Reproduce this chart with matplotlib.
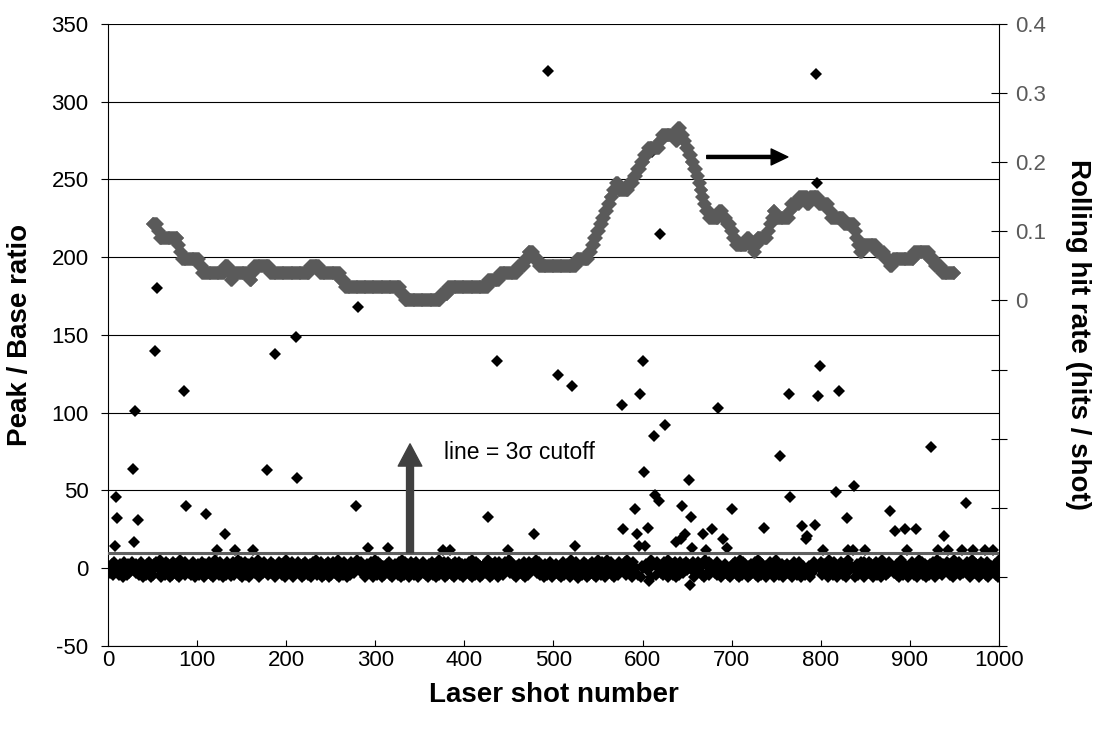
import numpy as np
import matplotlib
matplotlib.use('Agg')
import matplotlib.pyplot as plt
from matplotlib.ticker import FuncFormatter

plt.rcParams['font.family'] = ['Liberation Sans', 'DejaVu Sans']
plt.rcParams['axes.unicode_minus'] = False

# Peak/Base ratio of the ordinary (non-hit) shots, one character per shot,
# value = (int(char) - 5) * BAND_UNIT  (estimated from the dense band around 0)
BAND_UNIT = 1.4
BAND = (
    "53647281536247351846257364819537462583146527384162"
    "47382659173562847361528473625194637281543627485163"
    "72538461725384627159364728531647283651482736495281"
    "63582471634827365914257384615263847251364857263419"
    "37465281637285463172853624715836492753815264738152"
    "48573629146372854163528643715927483653167453826149"
    "62837451623574826315473625841962853741683527486153"
    "57483625174638275163925473816238465271854638257316"
    "73648251935284736152647382951627384651835627384519"
    "38574261637463528154283647516937582463174629385164"
    "64738251368254736419536287415362485731627384526159"
    "45268371493674825136528374615829473651836358274163"
    "58374625194736285164352864719364723851562846375184"
    "72635481365847362519436285714635827461596374825136"
    "37485261946284735162573648251948273651635384726159"
    "65283741634738265148362748519652748361534857362518"
    "28473651945362847163648527315937465281647253846183"
    "56384725163827465193472635816453847261596273845163"
    "48372651496358247163274638515946385271645837264159"
    "73548261634628375149583746215837462851646485372519"
)

# shots standing out of the band (shot number, Peak/Base ratio)
HIT_X = [8, 9, 10, 28, 29, 30, 34, 53, 55, 85, 88, 110, 122, 131, 138, 143, 163,
         178, 187, 211, 212, 278, 281, 292, 314, 376, 384, 426, 437, 449, 478,
         494, 505, 521, 524, 527, 577, 578, 591, 594, 596, 597, 600, 602, 603,
         606, 607, 611, 613, 614, 618, 620, 625, 637, 643, 644, 648, 652, 653,
         654, 655, 668, 671, 678, 685, 690, 695, 700, 736, 754, 764, 765, 779,
         783, 785, 793, 795, 796, 797, 799, 802, 817, 820, 829, 831, 836, 837,
         850, 878, 883, 895, 897, 907, 924, 932, 938, 943, 958, 963, 971, 984, 993]
HIT_Y = [14, 46, 32, 64, 17, 101, 31, 140, 180, 114, 40, 35, 12, 22, -5, 12, 12,
         63, 138, 149, 58, 40, 168, 13, 13, 12, 12, 33, 133, 12, 22,
         320, 124, 117, 14, -6, 105, 25, 38, 22, 14, 112, 133, 62, 14,
         26, -8, 268, 85, 47, 43, 215, 92, 17, 19, 40, 22, 57, -11,
         33, 13, 22, 12, 25, 103, 19, 13, 38, 26, 72, 112, 46, 27,
         19, 21, 28, 318, 248, 111, 130, 12, 49, 114, 32, 12, 12, 53,
         12, 37, 24, 25, 12, 25, 78, 12, 21, 12, 12, 42, 12, 12, 12]

CUTOFF = 10

# rolling hit rate (right axis), stepwise: value holds from each start shot
RATE_START = [50, 56, 58, 79, 81, 83, 103, 106, 131, 136, 138, 140, 159, 162, 164,
              182, 227, 238, 261, 266, 329, 333, 374, 382, 427, 440, 460, 468,
              472, 478, 484, 526, 540, 543, 546, 549, 552, 555, 558, 561, 564,
              567, 570, 573, 585, 590, 594, 598, 602, 606, 619, 622, 638, 640,
              643, 646, 649, 652, 655, 658, 661, 663, 665, 667, 669, 671, 675,
              686, 690, 695, 699, 702, 705, 717, 720, 725, 727, 729, 741, 743,
              745, 747, 749, 765, 767, 776, 785, 788, 798, 809, 812, 826, 838,
              840, 842, 844, 847, 863, 872, 878, 881, 905, 922, 928, 936]
RATE_VALUE = [0.11, 0.10, 0.09, 0.08, 0.07, 0.06, 0.05, 0.04, 0.05, 0.04, 0.03,
              0.04, 0.03, 0.04, 0.05, 0.04, 0.05, 0.04, 0.03, 0.02, 0.01, 0.00,
              0.01, 0.02, 0.03, 0.04, 0.05, 0.06, 0.07, 0.06, 0.05, 0.06, 0.07,
              0.08, 0.09, 0.10, 0.11, 0.12, 0.13, 0.14, 0.15, 0.16, 0.17, 0.16,
              0.17, 0.18, 0.19, 0.20, 0.21, 0.22, 0.23, 0.24, 0.23, 0.25, 0.24,
              0.23, 0.22, 0.21, 0.20, 0.19, 0.18, 0.17, 0.16, 0.15, 0.14, 0.13,
              0.12, 0.13, 0.12, 0.11, 0.10, 0.09, 0.08, 0.09, 0.08, 0.07, 0.08,
              0.09, 0.10, 0.11, 0.12, 0.13, 0.12, 0.13, 0.14, 0.15, 0.14, 0.15,
              0.14, 0.13, 0.12, 0.11, 0.10, 0.09, 0.08, 0.07, 0.08, 0.07, 0.06,
              0.05, 0.06, 0.07, 0.06, 0.05, 0.04]
RATE_END = 950

# per-shot series
ratio = np.array([(int(c, 16) - 5) * BAND_UNIT for c in BAND[:1000]])
shots = np.arange(1, len(ratio) + 1)
for x, y in zip(HIT_X, HIT_Y):
    ratio[x - 1] = y

lengths = np.diff(RATE_START + [RATE_END + 1])
rate_x = np.arange(RATE_START[0], RATE_END + 1)
rate_y = np.repeat(RATE_VALUE, lengths)

fig = plt.figure(figsize=(10.96, 7.34), dpi=100)
ax = fig.add_axes([0.0985, 0.1199, 0.813, 0.8474])
ax2 = ax.twinx()

ax.set_axisbelow(True)
ax.yaxis.grid(True, color='black', lw=0.8)
ax.plot(shots, ratio, 'D', ls='none', color='black', ms=6.5, mew=0, zorder=2)
ax.axhline(CUTOFF, color='#606060', lw=2.2, zorder=3)

# arrows and note
ax.annotate('', xy=(339, 80), xytext=(339, CUTOFF),
            arrowprops=dict(width=5, headwidth=17, headlength=16, color='#404040', shrink=0),
            zorder=4)
ax.text(377, 74.5, 'line = 3σ cutoff', va='center', ha='left', fontsize=16.5)
ax.annotate('', xy=(763, 264.5), xytext=(672, 264.5),
            arrowprops=dict(width=2.2, headwidth=11.5, headlength=12, color='black', shrink=0))

ax.set_xlim(0, 1000)
ax.set_ylim(-50, 350)
ax.set_xticks(np.arange(0, 1001, 100))
ax.set_yticks(np.arange(-50, 351, 50))
ax.tick_params(axis='y', direction='out', length=5, pad=9, labelsize=16, colors='black')
ax.tick_params(axis='x', direction='in', length=4, pad=3, labelsize=16)
ax.set_xlabel('Laser shot number', fontsize=20, fontweight='bold', labelpad=8)
ax.set_ylabel('Peak / Base ratio', fontsize=20, fontweight='bold', labelpad=13)
for s in ['top', 'right']:
    ax.spines[s].set_visible(False)

ax2.plot(rate_x, rate_y, 'D', ls='none', color='#5a5a5a', ms=7.3, mew=0)
ax2.set_ylim(-0.5, 0.4)
ax2.set_yticks(np.round(np.arange(-0.5, 0.41, 0.1), 1))

def rate_label(v, pos=None):
    if v < -1e-6:
        return ''
    if abs(v) < 1e-6:
        return '0'
    return '%.1f' % v

ax2.yaxis.set_major_formatter(FuncFormatter(rate_label))
ax2.tick_params(axis='y', direction='inout', length=11, labelsize=16,
                labelcolor='#5a5a5a', pad=6)
ax2.set_ylabel('Rolling hit rate (hits / shot)', rotation=270, va='bottom',
               fontsize=20, fontweight='bold', labelpad=14)
for s in ['top', 'left', 'bottom']:
    ax2.spines[s].set_visible(False)

fig.savefig('out.png', dpi=100)
